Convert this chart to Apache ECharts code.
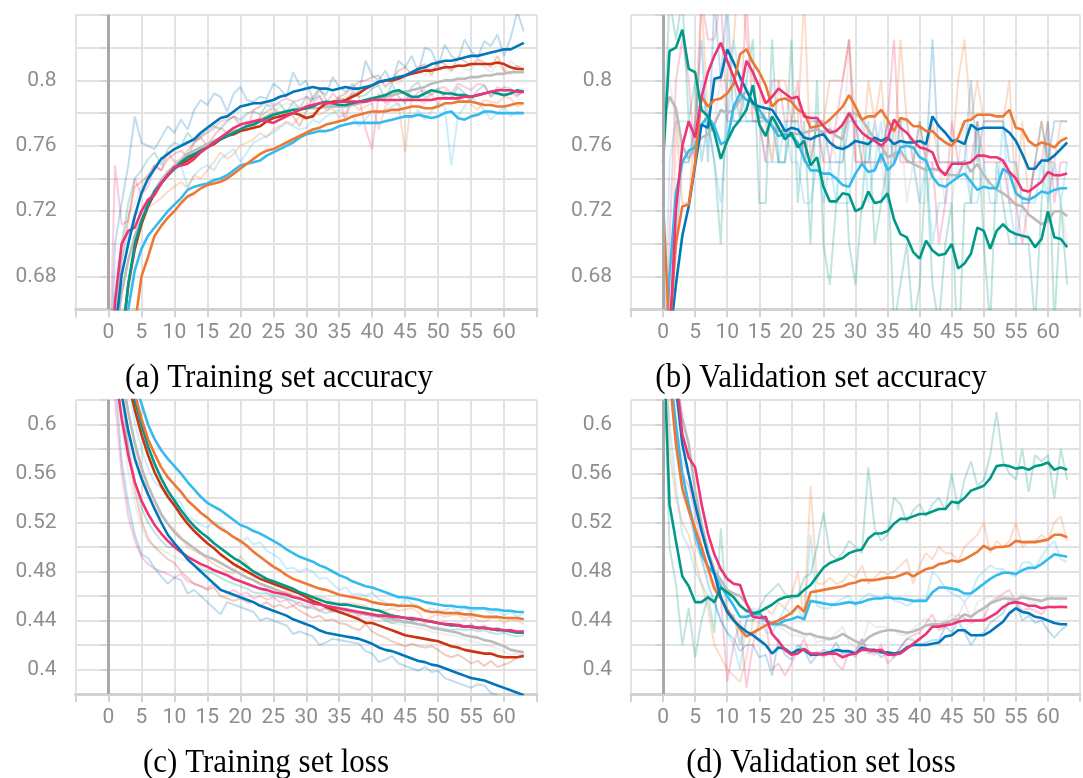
<!DOCTYPE html>
<html>
<head>
<meta charset="utf-8">
<script src="https://cdn.jsdelivr.net/npm/echarts@6/dist/echarts.min.js"></script>
<style>
  html, body { margin: 0; padding: 0; background: #ffffff; }
  #chart { width: 1083px; height: 778px; }
</style>
</head>
<body>
<div id="chart"></div>
<script>
// Epoch index shared by every run (0 .. 63)
const epochs = [...Array(64).keys()];

// Tick labels shown on the value axes
const accTickLabels = [0.68, 0.72, 0.76, 0.8];
const lossTickLabels = [0.4, 0.44, 0.48, 0.52, 0.56, 0.6];
const epochTickLabels = [0, 5, 10, 15, 20, 25, 30, 35, 40, 45, 50, 55, 60];

// All metric values below are in thousandths (per-mille): 823 -> 0.823

// (a) Training set accuracy, smoothed
const aBlue   = [600,645,681,700,717,731,740,746, 752,755,758,760,762,764,768,771, 774,777,778,781,784,785,786,786, 787,788,790,791,793,794,795,796, 795,795,794,795,796,795,795,796, 797,799,800,801,802,803,805,807, 808,810,811,812,812,813,814,815, 815,816,817,818,819,819,821,823];
const aRed    = [560,600,640,675,697,712,723,731, 737,742,746,749,751,754,757,759, 761,764,766,767,769,770,771,772, 775,777,778,779,780,779,777,778, 783,786,787,787,788,790,792,795, 797,799,800,800,801,803,804,805, 806,806,807,808,808,809,809,810, 810,810,810,811,810,808,807,807];
const aTeal   = [560,600,640,675,700,714,724,732, 737,742,746,750,753,755,757,759, 762,764,766,768,770,772,773,775, 777,779,780,781,782,782,783,784, 786,787,786,785,785,786,787,788, 789,790,791,793,794,792,790,790, 792,794,793,792,792,791,791,790, 791,792,793,792,791,792,794,793];
const aPink   = [600,665,700,708,710,720,727,730, 737,742,747,748,749,752,756,759, 762,765,768,771,773,774,775,776, 775,774,776,778,780,782,784,785, 786,786,786,787,787,787,787,787, 788,788,788,788,788,788,788,788, 788,788,789,789,789,789,790,790, 791,792,793,794,794,794,793,793];
const aOrange = [520,560,600,630,650,680,692,705, 711,716,720,725,729,731,734,736, 737,738,740,743,746,749,752,755, 757,758,760,762,764,766,768,770, 771,773,774,775,776,778,779,780, 781,781,781,782,782,783,784,784, 783,783,784,786,786,787,787,787, 786,785,785,784,784,785,786,786];
const aCyan   = [540,580,620,660,684,697,705,710, 715,720,724,728,733,735,736,737, 739,740,742,745,748,749,750,751, 754,756,758,760,762,765,767,768, 769,769,770,772,773,774,774,774, 774,774,775,776,777,778,778,779, 778,777,778,780,781,777,776,778, 779,781,781,780,780,780,780,780];
const aGrey   = [600,640,670,690,705,715,725,733, 739,744,748,751,755,757,759,761, 763,765,767,769,770,772,774,776, 778,780,780,781,782,783,783,783, 783,784,784,784,784,785,786,787, 788,789,790,791,792,793,794,795, 796,798,799,800,800,801,801,802, 802,803,803,804,804,805,805,805];

// (a) Training set accuracy, raw
const aBlueRaw   = [600,700,725,748,778,762,760,758, 765,772,768,776,770,782,788,785, 792,790,781,792,796,788,787,790, 789,798,795,790,805,797,800,788, 794,791,802,796,793,798,792,812, 803,800,806,798,812,808,815,805, 820,818,808,822,815,812,825,818, 814,824,821,828,815,826,842,830];
const aRedRaw    = [560,650,690,715,735,738,742,748, 745,752,755,757,753,762,765,760, 766,771,768,770,773,775,770,778, 781,783,780,782,778,772,781,790, 795,788,786,790,792,796,799,800, 802,803,796,800,806,808,804,808, 810,803,812,810,806,814,812,809, 813,811,808,815,806,804,809,806];
const aTealRaw   = [560,660,700,725,740,745,752,756, 748,758,762,760,768,763,766,770, 772,770,775,778,776,780,781,779, 785,784,786,780,787,783,790,788, 791,782,784,789,788,792,790,791, 795,797,788,798,790,786,796,799, 789,793,795,790,789,796,792,788, 794,797,790,793,796,795,791,793];
const aPinkRaw   = [600,748,712,714,740,730,735,748, 745,756,750,752,757,762,765,768, 771,775,776,778,772,770,782,784, 788,785,787,789,787,788,790,786, 790,785,792,788,776,794,790,770, 758,792,786,790,793,792,788,793, 794,791,795,796,792,798,796,794, 798,797,790,796,794,793,790,795];
const aOrangeRaw = [520,600,640,670,700,715,722,725, 728,732,735,738,734,742,740,745, 750,756,752,755,760,762,764,768, 765,770,772,775,773,778,776,780, 779,781,783,777,780,786,782,784, 786,770,784,788,785,756,790,788, 786,792,785,794,790,788,792,785, 782,788,787,786,790,789,784,786];
const aCyanRaw   = [540,650,690,705,718,720,724,730, 738,742,745,748,735,742,746,748, 745,752,755,758,750,756,762,764, 766,768,771,774,772,770,771,776, 774,778,780,782,776,778,772,776, 781,780,782,784,786,779,777,782, 776,781,786,784,748,778,784,790, 786,782,776,780,784,778,781,780];
const aGreyRaw   = [600,680,700,718,725,735,742,748, 752,755,757,760,762,764,766,768, 770,772,775,778,774,779,782,784, 786,780,784,786,785,782,786,784, 787,785,786,788,790,791,793,794, 796,797,799,800,798,802,804,806, 803,808,806,808,805,810,807,806, 812,808,805,810,806,812,808,810];

// (b) Validation set accuracy, smoothed
const bTeal   = [750,818,820,831,807,805,782,778, 768,752,763,771,776,782,797,773, 766,778,771,764,768,759,763,748, 753,735,726,726,731,730,720,722, 732,725,726,731,715,706,704,695, 691,702,696,693,694,700,685,688, 694,710,708,697,708,712,708,706, 705,704,698,703,720,704,703,698];
const bOrange = [725,645,700,723,724,750,790,784, 788,789,792,798,816,819,811,805, 797,784,788,789,787,782,780,771, 772,773,776,780,784,791,784,776, 778,778,782,776,769,777,776,772, 772,769,769,765,762,760,765,775, 776,779,779,779,778,778,782,771, 770,763,760,762,761,759,763,765];
const bBlue   = [600,640,675,705,723,748,773,771, 801,802,819,811,802,794,786,784, 783,782,776,769,771,770,765,764, 766,767,762,759,758,760,763,762, 761,765,763,765,761,763,762,762, 763,761,778,772,768,763,763,761, 773,770,771,771,771,771,768,763, 755,746,746,751,751,754,758,762];
const bPink   = [580,640,720,760,775,765,790,805, 815,823,812,802,792,812,805,796, 786,790,795,792,789,790,778,777, 777,772,768,769,773,780,773,768, 765,763,760,764,776,771,768,763, 759,758,756,746,742,749,749,749, 750,754,754,753,753,751,744,740, 733,732,735,738,744,742,742,743];
const bCyan   = [600,680,731,750,757,759,773,778, 772,761,763,784,792,788,787,782, 776,772,766,767,766,762,752,745, 745,743,743,740,736,735,743,749, 744,745,755,745,749,759,760,759, 753,751,741,736,735,738,741,743, 738,733,735,734,734,746,743,731, 728,727,729,732,731,733,734,734];
const bGrey   = [775,790,783,760,752,760,765,767, 773,782,780,782,788,794,785,778, 776,772,769,769,768,767,768,769, 770,768,770,766,764,780,780,776, 770,764,760,753,755,757,751,749, 747,745,746,745,743,742,742,751, 744,749,742,737,733,731,728,724, 723,718,715,712,714,720,720,717];

// (b) Validation set accuracy, raw
const bTealRaw   = [750,850,825,850,775,800,750,775, 750,700,800,800,775,800,825,725, 725,825,750,750,825,725,775,700, 800,700,675,725,775,700,675,725, 775,700,725,750,650,675,700,650, 675,750,675,650,700,725,625,725, 725,775,700,650,750,725,700,700, 700,700,650,725,775,650,725,675];
const bOrangeRaw = [725,600,775,725,725,775,850,775, 800,800,800,825,875,825,800,800, 775,750,800,800,775,775,850,750, 775,775,800,800,800,825,750,750, 800,775,800,750,750,825,775,750, 775,750,775,750,750,750,800,825, 775,800,775,775,775,775,800,725, 775,725,750,775,750,750,775,775];
const bBlueRaw   = [600,650,700,750,750,775,825,750, 850,800,850,775,775,775,775,775, 775,775,750,750,775,775,750,750, 775,775,750,750,750,775,775,750, 750,775,750,775,750,775,750,750, 775,750,825,750,750,750,750,750, 800,750,775,775,775,775,750,750, 725,725,750,775,750,775,775,775];
const bPinkRaw   = [580,700,800,825,800,750,850,825, 825,850,775,775,775,850,775,775, 750,800,800,775,775,800,750,775, 775,750,750,775,800,825,750,750, 750,750,750,775,825,750,750,750, 750,750,750,700,725,775,750,750, 750,775,750,750,750,750,725,725, 700,725,750,750,775,725,750,750];
const bCyanRaw   = [600,750,775,775,775,750,800,775, 750,725,775,825,800,775,775,775, 750,750,750,775,750,750,725,725, 750,725,750,725,725,725,775,775, 725,750,775,725,775,775,775,750, 725,750,700,725,725,750,750,750, 725,725,750,725,725,775,725,700, 725,725,725,750,725,750,725,750];
const bGreyRaw   = [775,800,775,750,750,775,775,775, 775,800,775,800,800,800,775,775, 775,750,775,775,775,775,775,775, 775,750,775,750,750,825,775,750, 750,750,750,725,775,775,725,750, 725,725,750,750,725,725,750,775, 725,775,725,725,725,725,725,725, 725,700,700,700,725,750,725,700];

// (c) Training set loss, smoothed
const cCyan   = [760,720,690,660,635,617,600,588, 579,572,566,560,553,547,541,536, 533,530,526,522,518,516,513,511, 508,505,502,498,495,492,490,488, 485,483,480,477,475,472,470,468, 467,465,463,461,459,459,458,457, 455,454,453,452,452,451,451,450, 450,450,449,449,448,448,447,447];
const cOrange = [740,700,670,645,625,605,588,576, 565,557,551,545,538,533,528,524, 519,515,512,508,505,501,496,492, 488,484,481,477,474,472,470,468, 466,465,463,461,460,459,458,457, 455,454,453,453,452,452,452,451, 448,447,447,446,446,446,445,445, 444,443,443,443,442,442,442,441];
const cTeal   = [740,700,668,642,620,600,582,568, 556,546,538,530,523,517,512,508, 503,499,495,491,488,484,480,477, 474,472,470,468,466,463,461,459, 457,455,454,453,453,452,451,450, 449,448,446,444,443,442,441,441, 440,439,438,437,436,436,435,435, 434,434,433,432,432,431,430,430];
const cRed    = [730,690,660,635,612,592,575,561, 550,541,534,526,519,513,508,503, 499,494,490,486,483,480,477,474, 472,470,468,466,464,462,459,456, 454,451,449,447,445,443,441,438, 438,436,434,432,430,428,427,426, 425,424,423,421,419,418,416,415, 414,413,413,411,410,410,410,411];
const cGrey   = [720,675,640,610,585,565,550,538, 527,519,512,507,503,499,495,492, 490,487,484,481,478,475,473,470, 468,466,464,462,460,458,456,455, 453,452,450,449,448,447,446,445, 444,443,442,441,440,439,438,437, 436,434,433,432,431,430,428,427, 426,424,423,421,419,416,415,414];
const cPink   = [700,645,605,575,553,538,527,518, 511,505,500,496,492,489,486,484, 481,479,477,474,472,470,468,466, 465,463,462,461,459,458,456,454, 453,452,451,450,449,448,447,446, 445,444,444,443,443,442,442,441, 440,439,438,437,437,436,435,435, 434,434,433,433,432,432,431,431];
const cBlue   = [720,670,625,595,572,556,543,531, 520,510,503,497,490,485,480,475, 470,465,463,461,459,457,455,452, 450,448,446,444,441,439,437,435, 432,430,429,428,427,426,425,423, 421,418,416,415,413,411,409,407, 406,404,403,401,399,397,395,393, 392,391,389,387,385,383,381,379];

// (c) Training set loss, raw
const cBlueRaw   = [720,640,570,535,510,494,491,483, 476,470,475,473,462,465,460,455, 450,445,455,453,451,449,447,440, 442,440,438,436,429,431,429,427, 420,422,425,424,423,422,421,415, 413,406,408,411,405,403,401,399, 402,398,399,393,391,389,387,385, 388,387,381,379,377,375,373,371];
const cPinkRaw   = [700,620,560,525,505,492,486,482, 480,478,475,478,472,470,468,466, 470,466,462,465,461,463,458,460, 457,459,455,457,452,455,450,452, 448,450,447,449,445,447,444,446, 443,445,442,445,441,443,440,442, 438,440,437,439,436,438,434,437, 433,436,432,434,431,433,430,432];
const cTealRaw   = [740,690,630,585,553,532,520,512, 505,500,500,495,490,485,482,480, 478,475,472,470,468,466,463,462, 462,460,459,458,456,452,451,450, 448,446,448,449,450,448,447,446, 445,444,440,438,439,438,439,437, 436,435,434,433,432,433,432,433, 431,432,430,429,430,428,427,428];
const cRedRaw    = [730,680,625,578,546,522,507,500, 495,490,487,480,475,470,468,465, 467,460,458,456,458,455,455,452, 455,451,453,450,452,448,445,442, 444,440,441,438,437,434,432,437, 431,428,426,423,421,419,421,419, 418,419,416,412,410,412,409,405, 407,403,407,402,404,406,410,412];
const cGreyRaw   = [720,660,600,562,536,516,505,500, 498,495,492,490,489,486,484,482, 481,479,477,474,472,469,468,465, 463,461,460,458,456,455,453,452, 450,449,447,446,446,444,443,442, 441,440,440,438,437,436,435,434, 433,431,430,429,428,427,425,423, 422,420,419,417,415,412,413,411];
const cOrangeRaw = [740,700,650,610,582,560,544,532, 525,519,514,508,500,497,494,490, 486,483,480,478,493,486,476,475, 472,470,468,464,462,463,462,460, 459,458,455,454,454,454,453,452, 448,449,448,450,448,449,450,447, 439,443,445,443,444,445,441,444, 440,439,442,442,438,441,440,437];
const cCyanRaw   = [760,720,672,634,602,580,564,553, 548,542,540,536,525,522,518,516, 521,518,512,508,503,508,502,504, 497,494,490,482,483,480,482,480, 474,475,470,465,467,461,462,460, 463,457,455,452,451,458,454,452, 448,450,448,448,451,447,450,447, 449,449,446,448,444,447,443,446];

// (d) Validation set loss, smoothed
const dTeal   = [680,535,505,476,468,455,455,459, 455,467,463,459,452,448,446,447, 450,453,457,459,460,460,465,469, 476,483,487,489,491,495,497,498, 507,511,511,513,519,523,523,525, 527,527,529,531,531,537,536,540, 546,548,550,556,566,567,566,564, 565,563,566,567,569,563,565,563];
const dOrange = [720,640,585,548,530,515,500,483, 466,458,449,441,433,427,430,433, 436,438,440,443,446,452,447,463, 464,465,466,467,468,470,471,473, 473,473,474,475,475,477,479,476, 479,482,483,486,487,489,488,490, 493,496,501,498,500,500,501,505, 504,504,504,505,506,510,510,508];
const dCyan   = [700,650,600,560,535,512,494,484, 478,468,460,452,443,443,445,446, 440,437,437,440,441,443,441,456, 455,454,453,453,454,455,454,455, 457,458,458,459,458,458,457,456, 456,456,463,467,467,466,465,462, 462,466,470,474,477,479,479,478, 481,483,483,486,490,494,493,492];
const dGrey   = [720,680,640,605,584,546,519,497, 481,473,465,462,460,454,446,443, 440,438,437,436,433,431,429,429, 427,426,425,426,429,426,423,421, 426,429,431,432,432,431,430,431, 433,436,437,437,438,440,441,445, 443,447,450,454,456,458,458,457, 459,458,457,456,458,458,458,458];
const dPink   = [760,700,640,592,573,565,535,511, 494,482,474,470,469,454,443,442, 443,429,423,416,412,413,417,413, 413,412,413,413,410,412,413,416, 416,415,416,412,412,413,417,421, 425,429,435,435,436,437,439,440, 440,440,440,443,446,451,454,455, 454,452,452,450,451,451,451,451];
const dBlue   = [740,690,630,584,559,535,513,494, 478,459,447,440,435,431,428,424, 420,413,418,417,413,416,416,412, 412,413,414,416,415,415,413,418, 416,416,414,414,413,414,418,420, 420,420,421,422,427,428,432,432, 428,428,428,431,435,439,446,450, 447,446,443,442,440,438,437,437];

// (d) Validation set loss, raw
const dTealRaw   = [680,500,470,420,450,410,440,460, 430,515,440,445,420,440,440,450, 460,465,470,462,458,460,475,478, 500,528,495,490,495,505,500,495, 565,515,505,510,540,535,520,530, 535,525,535,540,530,560,530,555, 570,550,555,575,610,570,560,555, 580,545,575,570,575,540,580,555];
const dOrangeRaw = [720,580,540,520,510,490,470,450, 420,410,400,395,390,410,440,445, 450,445,455,450,460,480,440,550, 470,470,475,470,472,478,475,485, 470,475,480,478,480,485,490,470, 485,495,490,500,495,495,488,500, 505,510,520,495,505,500,505,520, 500,505,505,510,505,520,525,505];
const dCyanRaw   = [700,600,550,510,500,480,470,460, 455,440,430,420,400,440,450,448, 430,430,440,450,445,450,440,510, 452,450,450,455,458,460,452,458, 462,460,458,462,456,455,452,455, 458,457,480,475,466,462,460,455, 462,475,480,485,482,482,478,476, 487,488,483,492,500,505,490,488];
const dGreyRaw   = [720,640,600,570,560,520,490,475, 465,460,455,460,455,445,440,438, 436,436,435,432,428,428,426,430, 422,424,424,430,435,422,418,418, 440,435,435,434,432,428,428,433, 438,442,438,436,440,445,443,455, 440,455,458,460,458,460,457,454, 462,456,454,455,461,458,457,458];
const dPinkRaw   = [760,640,590,560,550,530,500,480, 470,460,390,420,440,385,420,440, 440,400,405,395,405,415,425,410, 415,410,415,405,400,415,415,425, 415,412,420,405,410,418,425,428, 430,438,445,432,435,440,445,442, 438,440,442,455,458,462,465,455, 448,450,448,445,452,450,452,450];
const dBlueRaw   = [740,640,580,545,530,505,490,470, 455,440,430,425,415,420,420,410, 412,395,425,412,408,420,416,405, 412,416,414,422,412,415,410,425, 413,416,410,414,410,418,425,424, 420,422,424,424,435,430,440,430, 420,428,430,438,442,446,458,455, 440,444,438,440,432,426,432,436];

const captions = ['(a) Training set accuracy', '(b) Validation set accuracy', '(c) Training set loss', '(d) Validation set loss'];

// Run colours
const colors = {
  blue: '#0077bb', cyan: '#33bbee', teal: '#009988', orange: '#ee7733',
  red: '#cc3311', pink: '#ee3377', grey: '#bbbbbb'
};

// Panel layout: which runs each panel holds, its value range and frame
const panels = [
  { runs: [['grey', aGrey, aGreyRaw], ['cyan', aCyan, aCyanRaw], ['orange', aOrange, aOrangeRaw], ['red', aRed, aRedRaw], ['teal', aTeal, aTealRaw], ['pink', aPink, aPinkRaw], ['blue', aBlue, aBlueRaw]],
    min: 0.66, max: 0.84, ticks: accTickLabels, left: 75.5, top: 15, width: 461.5, height: 294.3,
    caption: { x: 279, y: 378 } },
  { runs: [['grey', bGrey, bGreyRaw], ['cyan', bCyan, bCyanRaw], ['blue', bBlue, bBlueRaw], ['orange', bOrange, bOrangeRaw], ['pink', bPink, bPinkRaw], ['teal', bTeal, bTealRaw]],
    min: 0.66, max: 0.84, ticks: accTickLabels, left: 631, top: 15, width: 460.6, height: 294.3,
    caption: { x: 821, y: 378 } },
  { runs: [['grey', cGrey, cGreyRaw], ['red', cRed, cRedRaw], ['teal', cTeal, cTealRaw], ['orange', cOrange, cOrangeRaw], ['cyan', cCyan, cCyanRaw], ['pink', cPink, cPinkRaw], ['blue', cBlue, cBlueRaw]],
    min: 0.38, max: 0.62, ticks: lossTickLabels, left: 75.5, top: 400, width: 461.5, height: 294,
    caption: { x: 266, y: 763 } },
  { runs: [['grey', dGrey, dGreyRaw], ['cyan', dCyan, dCyanRaw], ['orange', dOrange, dOrangeRaw], ['teal', dTeal, dTealRaw], ['blue', dBlue, dBlueRaw], ['pink', dPink, dPinkRaw]],
    min: 0.38, max: 0.62, ticks: lossTickLabels, left: 631, top: 400, width: 460.6, height: 294,
    caption: { x: 821, y: 763 } }
];

const gridLine = { color: '#e2e2e2', width: 2 };
const tickLine = { color: '#d4d4d4', width: 2 };
const labelFont = { color: '#8e8e8e', fontFamily: 'Roboto', fontSize: 21 };

const toPoints = vals => epochs.map(i => [i, vals[i] / 1000]);

const grids = [], xAxes = [], yAxes = [], series = [];

panels.forEach((p, k) => {
  grids.push({ left: p.left, top: p.top, width: p.width, height: p.height, containLabel: false });

  xAxes.push({
    gridIndex: k, type: 'value', min: -5, max: 65, interval: 5,
    axisLine: { show: true, onZero: false, lineStyle: { color: '#d2d2d2', width: 3 } },
    axisTick: { show: true, length: 8, lineStyle: tickLine },
    axisLabel: Object.assign({ margin: 13,
      formatter: v => epochTickLabels.includes(Math.round(v)) ? String(Math.round(v)) : '' }, labelFont),
    splitLine: { show: true, lineStyle: gridLine }
  });

  yAxes.push({
    gridIndex: k, type: 'value', min: p.min, max: p.max, interval: 0.02,
    axisLine: { show: true, lineStyle: { color: '#dadada', width: 3 } },
    axisTick: { show: true, length: 8, lineStyle: tickLine },
    axisLabel: Object.assign({ margin: 19,
      formatter: v => {
        const r = Math.round(v * 100) / 100;
        return p.ticks.some(t => Math.abs(t - r) < 1e-9) ? String(r) : '';
      } }, labelFont),
    splitLine: { show: true, lineStyle: gridLine }
  });

  // Marker at epoch 0
  series.push({
    type: 'line', xAxisIndex: k, yAxisIndex: k, data: [], silent: true, z: 1,
    markLine: {
      silent: true, symbol: 'none', label: { show: false },
      lineStyle: { color: '#a9a9a9', width: 3, type: 'solid' },
      data: [{ xAxis: 0 }]
    }
  });

  // Unsmoothed runs, faint
  p.runs.forEach(([c, , raw]) => {
    series.push({
      type: 'line', xAxisIndex: k, yAxisIndex: k, data: toPoints(raw),
      symbol: 'none', silent: true, z: 2, clip: true,
      lineStyle: { color: colors[c], width: 2, opacity: 0.25 }
    });
  });

  // Smoothed runs
  p.runs.forEach(([c, smooth]) => {
    series.push({
      type: 'line', xAxisIndex: k, yAxisIndex: k, data: toPoints(smooth),
      symbol: 'none', silent: true, z: 3, clip: true,
      lineStyle: { color: colors[c], width: 2.6 }
    });
  });
});

const chart = echarts.init(document.getElementById('chart'), null, { renderer: 'canvas' });
chart.setOption({
  animation: false,
  backgroundColor: '#ffffff',
  grid: grids,
  xAxis: xAxes,
  yAxis: yAxes,
  series: series,
  graphic: panels.map((p, k) => ({
    type: 'text', x: p.caption.x, y: p.caption.y, scaleY: 1.1, silent: true,
    style: { text: captions[k], font: '31px "Liberation Serif"', fill: '#000000',
             textAlign: 'center', textVerticalAlign: 'middle' }
  }))
});
</script>
</body>
</html>
